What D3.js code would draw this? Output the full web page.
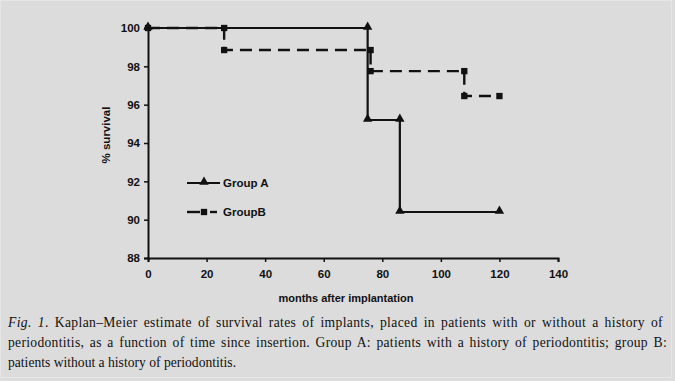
<!DOCTYPE html>
<html><head><meta charset="utf-8">
<script src="https://cdn.jsdelivr.net/npm/d3@7"></script>
<style>html,body{margin:0;padding:0;background:#dcdcdc;}svg{display:block;}</style>
</head><body>
<script>
// Data
const groupAMonths   = [0, 75, 75, 86, 86, 120];
const groupASurvival = [100, 100, 95.2, 95.2, 90.4, 90.4];
const groupBMonths   = [0, 26, 26, 76, 76, 108, 108, 120];
const groupBSurvival = [100, 100, 98.85, 98.85, 97.75, 97.75, 96.45, 96.45];
const xTicks = [0, 20, 40, 60, 80, 100, 120, 140];
const yTicks = [88, 90, 92, 94, 96, 98, 100];
const seriesNames = ["Group A", "GroupB"];
const xTitle = "months after implantation";
const yTitle = "% survival";
const captionLines = [
  ["Fig. 1", ". Kaplan–Meier estimate of survival rates of implants, placed in patients with or without a history of"],
  ["", "periodontitis, as a function of time since insertion. Group A: patients with a history of periodontitis; group B:"],
  ["", "patients without a history of periodontitis."]
];

const W = 675, H = 381;
const svg = d3.select("body").append("svg").attr("width", W).attr("height", H);
svg.append("rect").attr("width", W).attr("height", H).attr("fill", "#dcdcdc");
svg.append("rect").attr("x", 0.5).attr("y", 0.5).attr("width", W - 4).attr("height", H - 4)
  .attr("fill", "none").attr("stroke", "#e6e6e6").attr("stroke-width", 1);

const x = d3.scaleLinear().domain([0, 140]).range([148, 558]);
const y = d3.scaleLinear().domain([88, 100]).range([258, 28]);

const font = "'Liberation Sans', Arial, sans-serif";

// Axes
const gx = svg.append("g").attr("transform", `translate(0,${y(88)})`)
  .call(d3.axisBottom(x).tickValues(xTicks).tickSize(4).tickPadding(8));
const gy = svg.append("g").attr("transform", `translate(${x(0)},0)`)
  .call(d3.axisLeft(y).tickValues(yTicks).tickSize(4).tickPadding(4));
[gx, gy].forEach(g => {
  g.select(".domain").attr("stroke", "#111").attr("stroke-width", 2);
  g.selectAll(".tick line").attr("stroke", "#111").attr("stroke-width", 1.5);
  g.selectAll(".tick text").attr("fill", "#111").style("font-family", font)
    .style("font-weight", "bold").style("font-size", "11.5px");
});

svg.append("text").attr("x", 346).attr("y", 302).attr("text-anchor", "middle")
  .style("font-family", font).style("font-weight", "bold").style("font-size", "11px")
  .attr("fill", "#111").text(xTitle);
svg.append("text").attr("transform", `translate(110,${135}) rotate(-90)`).attr("text-anchor", "middle")
  .style("font-family", font).style("font-weight", "bold").style("font-size", "11.5px")
  .attr("fill", "#111").text(yTitle);

const line = d3.line().x(d => x(d[0])).y(d => y(d[1]));
const A = groupAMonths.map((m, i) => [m, groupASurvival[i]]);
const B = groupBMonths.map((m, i) => [m, groupBSurvival[i]]);

svg.append("path").datum(A).attr("d", line).attr("fill", "none")
  .attr("stroke", "#111").attr("stroke-width", 2.2);
svg.append("path").datum(B).attr("d", line).attr("fill", "none")
  .attr("stroke", "#111").attr("stroke-width", 2.4).attr("stroke-dasharray", "12,7");

const tri = d3.symbol().type(d3.symbolTriangle).size(38);
const sq = d3.symbol().type(d3.symbolSquare).size(40);
svg.selectAll(".ma").data(A).join("path").attr("class", "ma")
  .attr("transform", d => `translate(${x(d[0])},${y(d[1]) - 1})`).attr("d", tri()).attr("fill", "#111");
svg.selectAll(".mb").data(B).join("path").attr("class", "mb")
  .attr("transform", d => `translate(${x(d[0])},${y(d[1])})`).attr("d", sq()).attr("fill", "#111");

// Legend
const lg = svg.append("g");
lg.append("line").attr("x1", 187).attr("x2", 220).attr("y1", 183).attr("y2", 183)
  .attr("stroke", "#111").attr("stroke-width", 2.2);
lg.append("path").attr("transform", "translate(204,182)").attr("d", tri()).attr("fill", "#111");
lg.append("line").attr("x1", 187).attr("x2", 200).attr("y1", 212).attr("y2", 212)
  .attr("stroke", "#111").attr("stroke-width", 2.4);
lg.append("line").attr("x1", 210).attr("x2", 217).attr("y1", 212).attr("y2", 212)
  .attr("stroke", "#111").attr("stroke-width", 2.4);
lg.append("path").attr("transform", "translate(204,212)").attr("d", sq()).attr("fill", "#111");
seriesNames.forEach((n, i) => {
  lg.append("text").attr("x", 223).attr("y", [183, 212][i] + 4)
    .style("font-family", font).style("font-weight", "bold").style("font-size", "11.5px")
    .attr("fill", "#111").text(n);
});

// Caption (lines 1-2 justified)
const capW = [655, 659, null];
captionLines.forEach((parts, i) => {
  const t = svg.append("text").attr("x", 8).attr("y", 327 + i * 20)
    .style("font-family", "'Liberation Serif', 'Times New Roman', serif").style("font-size", "13.6px")
    .attr("fill", "#111");
  if (parts[0]) t.append("tspan").style("font-style", "italic").text(parts[0]);
  t.append("tspan").text(parts[1]);
  if (capW[i]) {
    const nat = t.node().getComputedTextLength();
    const str = parts[0] + parts[1];
    const spaces = str.split(" ").length - 1;
    const extra = capW[i] - nat;
    t.style("word-spacing", (extra * 0.5 / spaces) + "px")
     .style("letter-spacing", (extra * 0.5 / str.length) + "px");
  }
});
</script>
</body></html>
